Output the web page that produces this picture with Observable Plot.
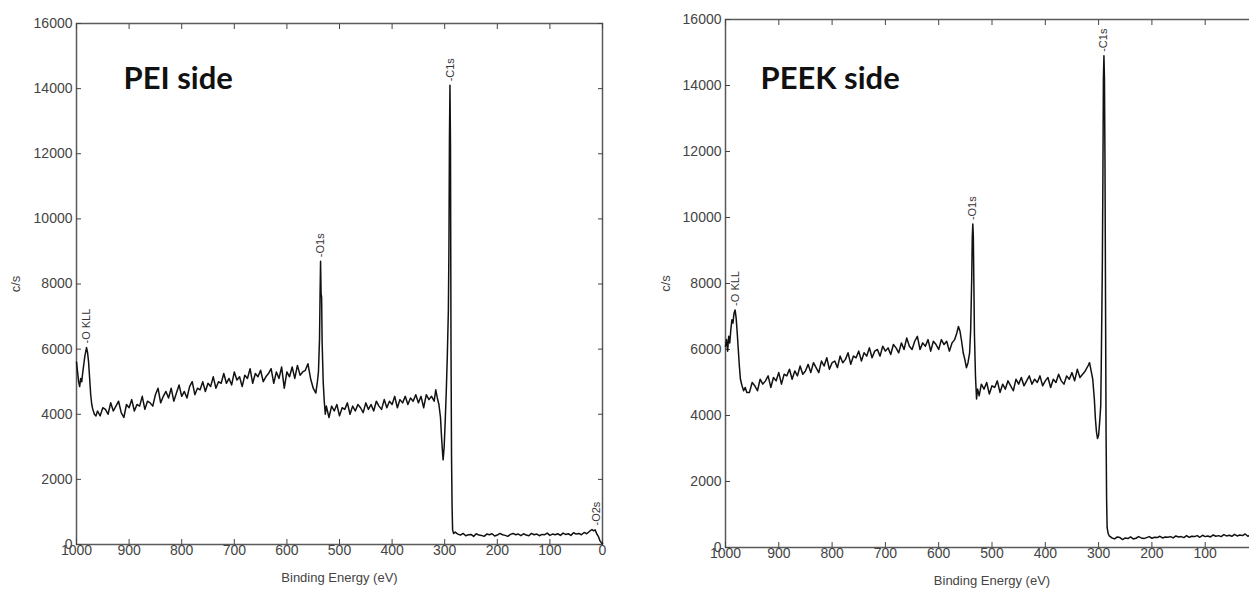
<!DOCTYPE html>
<html><head><meta charset="utf-8">
<script src="https://cdn.jsdelivr.net/npm/d3@7"></script>
<script src="https://cdn.jsdelivr.net/npm/@observablehq/plot@0.6"></script>
<style>
body{margin:0;background:#fff;overflow:hidden}
#wrap{position:relative;width:1249px;height:590px;overflow:hidden;background:#fff}
#left{position:absolute;left:0;top:0;width:625px;height:590px}
#right{position:absolute;left:640px;top:0;width:640px;height:590px}
#wrap svg{max-width:none !important;display:block}
</style></head><body><div id="wrap"><div id="left"></div><div id="right"></div></div>
<script>
const xTicks = [1000,900,800,700,600,500,400,300,200,100,0];
const yTicks = [0,2000,4000,6000,8000,10000,12000,14000,16000];
const xTitle = "Binding Energy (eV)";
const yTitle = "c/s";

// ---------- PEI side ----------
const peiOKLL = [[1000,5600],[998,5300],[996,5000],[994,4850],[992,5100],[990,5000],[988,5300],[986,5550],[984,5800],[982,5950],[981,6050],[979,5900],[977,5600],[975,5100],[973,4600],[971,4300],[969,4150],[966,4000],[963,3950],[960,4100]];
const peiBase1 = [[955,3950],[950,4200],[945,4150],[940,4000],[935,4350],[930,4100],[925,4250],[920,4400],[915,4050],[910,3900],[905,4300],[900,4200],[895,4450],[890,4100],[885,4300],[880,4250],[875,4550],[870,4150],[865,4400],[860,4350],[855,4250],[850,4600],[845,4800],[840,4350],[835,4550],[830,4700],[825,4500],[820,4800],[815,4400],[810,4650],[805,4900],[800,4550],[795,4700],[790,4500],[785,4850],[780,5000],[775,4600],[770,4800],[765,4750],[760,5000],[755,4700],[750,4950],[745,4850],[740,5150],[735,4800],[730,5000],[725,4950],[720,5250],[715,4950],[710,5100],[705,4900],[700,5300],[695,5050],[690,5150],[685,4850],[680,5200],[675,5100],[670,5400],[665,4950],[660,5250],[655,5150],[650,5350],[645,5000],[640,5150],[635,5250],[630,5400],[625,4950],[620,5300],[615,5100],[610,5450],[605,4800],[600,5300],[595,5150],[590,5450],[585,5100],[580,5500],[575,5200],[570,5300],[565,5350],[560,5550],[555,5100],[550,4800],[545,4650]];
const peiO1s = [[542,5000],[540,5300],[538,6300],[537,7600],[536,8700],[535,7700],[534,7600],[533,6200],[531,5000],[529,4400],[527,4000],[525,4250]];
const peiBase2 = [[520,3900],[515,4250],[510,4100],[505,4300],[500,3950],[495,4200],[490,4150],[485,4350],[480,4000],[475,4250],[470,4100],[465,4300],[460,4200],[455,4050],[450,4350],[445,4150],[440,4300],[435,4100],[430,4400],[425,4250],[420,4150],[415,4450],[410,4200],[405,4400],[400,4300],[395,4550],[390,4200],[385,4450],[380,4350],[375,4550],[370,4300],[365,4500],[360,4400],[355,4600],[350,4350],[345,4550],[340,4200],[335,4600],[330,4450],[325,4550],[320,4400],[317,4750],[314,4500]];
const peiC1s = [[311,4300],[308,3900],[306,3300],[304,2800],[303,2600],[301,3000],[299,3800],[297,4700],[295,5800],[293,7200],[292,9000],[291,12400],[290,14100],[289,12300],[288,6000],[287,2700],[286,1200],[285,450],[283,340]];
const peiTail = [[280,380],[275,320],[270,290],[265,340],[260,270],[255,300],[250,310],[245,250],[240,330],[235,290],[230,280],[225,250],[220,320],[215,300],[210,330],[205,260],[200,290],[195,340],[190,300],[185,280],[180,250],[175,310],[170,340],[165,300],[160,320],[155,270],[150,330],[145,290],[140,270],[135,340],[130,300],[125,320],[120,270],[115,310],[110,300],[105,350],[100,280],[95,320],[90,300],[85,330],[80,280],[75,350],[70,310],[65,330],[60,280],[55,360],[50,320],[45,340],[40,300],[35,370],[30,330],[25,400],[20,460],[17,420],[14,450],[11,330],[8,250],[5,120],[2,50],[0,30]];
const peiPeakNames = ["-O KLL","-O1s","-C1s","-O2s"];
const peiPeakEnergy = [981,537,289,12];
const peiPeakCounts = [6050,8700,14100,460];

// ---------- PEEK side ----------
const peekOKLL = [[1000,6100],[998,6300],[996,5950],[994,6400],[992,6200],[990,6600],[988,6900],[986,6800],[984,7100],[982,7200],[980,6950],[978,6500],[976,6000],[974,5500],[972,5100],[969,4900],[966,4750],[963,4850],[960,4700]];
const peekBase1 = [[955,4700],[950,5000],[945,4900],[940,4750],[935,5100],[930,4950],[925,5050],[920,5200],[915,4850],[910,5150],[905,5050],[900,5300],[895,4950],[890,5250],[885,5200],[880,5400],[875,5100],[870,5350],[865,5200],[860,5500],[855,5250],[850,5350],[845,5550],[840,5300],[835,5600],[830,5450],[825,5300],[820,5650],[815,5500],[810,5750],[805,5400],[800,5600],[795,5650],[790,5450],[785,5800],[780,5600],[775,5700],[770,5900],[765,5550],[760,5800],[755,5750],[750,5950],[745,5650],[740,5900],[735,5800],[730,6050],[725,5750],[720,5950],[715,6000],[710,5800],[705,6100],[700,5950],[695,6050],[690,5850],[685,6150],[680,6050],[675,5900],[670,6200],[665,6000],[660,6350],[655,6100],[650,6000],[645,6250],[640,6400],[635,6000],[630,6200],[625,6100],[620,6300],[615,5950],[610,6250],[605,6150],[600,6000],[595,6300],[590,6150],[585,6250],[580,5950],[575,6200],[570,6300],[566,6500],[563,6700],[560,6550],[557,6250],[554,5900],[551,5700],[548,5450],[545,5600]];
const peekO1s = [[542,5900],[540,6600],[538,8200],[537,9400],[536,9800],[535,9400],[534,8000],[533,6500],[531,5200],[529,4500],[527,4800]];
const peekBase2 = [[524,4600],[520,4950],[515,4800],[510,5000],[505,4650],[500,4900],[495,4850],[490,5050],[485,4700],[480,4950],[475,4800],[470,5050],[465,4900],[460,4750],[455,5100],[450,4950],[445,5150],[440,4900],[435,5050],[430,5200],[425,4950],[420,5100],[415,5000],[410,5200],[405,4900],[400,5050],[395,5150],[390,4850],[385,5100],[380,5000],[375,5250],[370,5050],[365,4950],[360,5200],[355,5100],[350,5300],[345,5050],[340,5400],[335,5150],[330,5250],[325,5350],[320,5500],[317,5600],[314,5350]];
const peekC1s = [[311,5100],[308,4500],[306,3900],[304,3500],[302,3300],[300,3400],[298,3800],[296,4300],[295,5500],[294,7000],[293,8500],[292,11000],[291,14200],[290,14900],[289,14200],[288,11600],[287,7500],[286,3500],[285,1500],[284,600],[282,420]];
const peekTail = [[280,350],[275,290],[270,260],[265,320],[260,300],[255,240],[250,290],[245,270],[240,320],[235,260],[230,280],[225,330],[220,290],[215,270],[210,300],[205,330],[200,280],[195,310],[190,300],[185,340],[180,290],[175,320],[170,310],[165,330],[160,290],[155,350],[150,320],[145,330],[140,300],[135,360],[130,310],[125,340],[120,330],[115,360],[110,310],[105,370],[100,330],[95,350],[90,320],[85,380],[80,340],[75,360],[70,330],[65,390],[60,350],[55,370],[50,340],[45,400],[40,350],[35,380],[30,360],[25,410],[20,340],[15,390],[10,330],[5,380],[0,350]];
const peekPeakNames = ["-O KLL","-O1s","-C1s"];
const peekPeakEnergy = [982,536,290];
const peekPeakCounts = [7200,9800,14900];

function toRows(...segs) {
  return segs.flat().map(([e, c]) => ({e, c}));
}
function peakRows(names, es, cs) {
  return names.map((n, i) => ({label: n, e: es[i], c: cs[i]}));
}

function panel(o) {
  const fmt = d => String(d);
  return Plot.plot({
    width: o.width, height: 590,
    marginLeft: o.ml, marginRight: o.mr, marginTop: o.mt, marginBottom: o.mb,
    style: {fontFamily: "'Liberation Sans', Arial, sans-serif", fontSize: "14px", color: "#444", background: "#fff", maxWidth: "none"},
    x: {domain: [1000, 0], ticks: xTicks},
    y: {domain: [0, 16000], ticks: yTicks},
    marks: [
      Plot.frame({stroke: "#5a5a5a", strokeWidth: 1.5}),
      Plot.axisX({ticks: xTicks, tickSize: -5, tickPadding: 6, tickFormat: fmt, label: null, fill: "#444", fontSize: 14}),
      Plot.axisX({anchor: "top", ticks: xTicks, tickSize: -5, tickFormat: () => "", label: null}),
      Plot.axisY({ticks: yTicks, tickSize: -5, tickPadding: 9, tickFormat: fmt, label: null, fill: "#444", fontSize: 14}),
      Plot.axisY({anchor: "right", ticks: yTicks, tickSize: -5, tickFormat: () => "", label: null}),
      Plot.line(o.data, {x: "e", y: "c", stroke: "#111", strokeWidth: 1.5}),
      Plot.text(o.peaks, {x: "e", y: "c", text: "label", rotate: -90, textAnchor: "start", lineAnchor: "middle", dy: -4, fontSize: 11, fill: "#333", fontFamily: "'Liberation Sans', Arial, sans-serif"}),
      Plot.text([o.title], {frameAnchor: "top-left", textAnchor: "start", lineAnchor: "middle", dx: o.tdx, dy: o.tdy, fontSize: 31, fontWeight: "bold", fontFamily: "Lato, 'Open Sans', sans-serif", fill: "#111"}),
      Plot.text([xTitle], {frameAnchor: "bottom", textAnchor: "middle", lineAnchor: "middle", dy: o.xdy, fontSize: 13, fill: "#444"}),
      Plot.text([yTitle], {frameAnchor: "left", textAnchor: "middle", lineAnchor: "middle", rotate: -90, dx: o.ydx, fontSize: 13, fill: "#444"})
    ]
  });
}

document.getElementById("left").appendChild(panel({
  width: 625, ml: 76, mr: 23, mt: 23, mb: 46,
  data: toRows(peiOKLL, peiBase1, peiO1s, peiBase2, peiC1s, peiTail),
  peaks: peakRows(peiPeakNames, peiPeakEnergy, peiPeakCounts),
  title: "PEI side", tdx: 47, tdy: 56, xdy: 33, ydx: -61
}));
document.getElementById("right").appendChild(panel({
  width: 640, ml: 85, mr: 22, mt: 19, mb: 43,
  data: toRows(peekOKLL, peekBase1, peekO1s, peekBase2, peekC1s, peekTail),
  peaks: peakRows(peekPeakNames, peekPeakEnergy, peekPeakCounts),
  title: "PEEK side", tdx: 35, tdy: 60, xdy: 33, ydx: -60
}));
</script></body></html>
